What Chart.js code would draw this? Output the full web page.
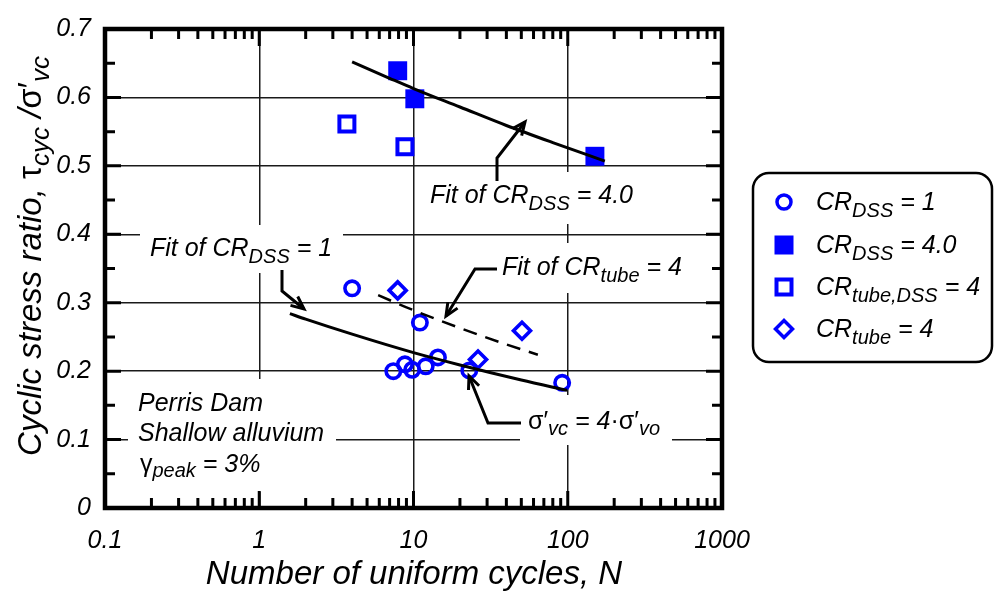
<!DOCTYPE html>
<html>
<head>
<meta charset="utf-8">
<script src="https://cdn.jsdelivr.net/npm/chart.js@4.4.1/dist/chart.umd.min.js"></script>
<style>
  html, body { margin: 0; padding: 0; background: #fff; }
  canvas { display: block; }
</style>
</head>
<body>
<canvas id="chart" width="994" height="595"></canvas>
<script>
const FONT = "'Liberation Sans', Arial, Helvetica, sans-serif";
const BLUE = '#0000ff';

// Test results: number of uniform cycles N and cyclic stress ratio
const crDss1N      = [4.0, 11.0, 7.4, 8.8, 9.8, 12.0, 14.4, 23.0, 92];
const crDss1Csr    = [0.321, 0.271, 0.200, 0.210, 0.202, 0.207, 0.220, 0.201, 0.183];
const crDss4N      = [7.9, 10.2, 150];
const crDss4Csr    = [0.639, 0.598, 0.514];
const crTubeDssN   = [3.7, 8.8];
const crTubeDssCsr = [0.561, 0.528];
const crTubeN      = [7.9, 26.2, 50.5];
const crTubeCsr    = [0.318, 0.217, 0.259];

// Fitted trend curves
const fitDss4N   = [4, 7, 10, 20, 40, 80, 174];
const fitDss4Csr = [0.652, 0.628, 0.613, 0.586, 0.559, 0.534, 0.507];
const fitDss1N   = [1.58, 2, 4, 10, 20, 50, 99];
const fitDss1Csr = [0.284, 0.276, 0.254, 0.227, 0.209, 0.187, 0.172];
const fitTubeN   = [5.9, 10, 20, 40, 64];
const fitTubeCsr = [0.311, 0.289, 0.263, 0.239, 0.224];

// Axis tick labels
const xTickValues = [0.1, 1, 10, 100, 1000];
const xTickLabels = ['0.1', '1', '10', '100', '1000'];
const yTickLabels = ['0', '0.1', '0.2', '0.3', '0.4', '0.5', '0.6', '0.7'];

const pts = (xs, ys) => xs.map((x, i) => ({ x: x, y: ys[i] }));

function isDecade(v) {
  const l = Math.log10(v);
  return Math.abs(l - Math.round(l)) < 1e-6;
}

// ---- text helpers -------------------------------------------------------
// parts: {t, sub, up} ; sub = subscript, up = upright (Greek symbols)
function richWidth(ctx, parts, size, subSize) {
  let w = 0;
  parts.forEach(p => {
    ctx.font = (p.up ? '' : 'italic ') + (p.sub ? subSize : size) + 'px ' + FONT;
    p._w = ctx.measureText(p.t).width;
    w += p._w;
  });
  return w;
}
function drawRich(ctx, x, y, parts, size, subSize, subDy, align) {
  const w = richWidth(ctx, parts, size, subSize);
  let cx = align === 'center' ? x - w / 2 : x;
  ctx.textBaseline = 'alphabetic';
  ctx.textAlign = 'left';
  ctx.fillStyle = '#000';
  parts.forEach(p => {
    ctx.font = (p.up ? '' : 'italic ') + (p.sub ? subSize : size) + 'px ' + FONT;
    ctx.fillText(p.t, cx, y + (p.sub ? subDy : 0));
    cx += p._w;
  });
}
function arrow(ctx, path) {
  ctx.save();
  ctx.strokeStyle = '#000';
  ctx.lineWidth = 3;
  ctx.lineJoin = 'miter';
  ctx.beginPath();
  ctx.moveTo(path[0][0], path[0][1]);
  for (let i = 1; i < path.length; i++) ctx.lineTo(path[i][0], path[i][1]);
  ctx.stroke();
  const [x1, y1] = path[path.length - 2];
  const [x2, y2] = path[path.length - 1];
  const ang = Math.atan2(y2 - y1, x2 - x1);
  const L = 14, a = 0.42;
  ctx.beginPath();
  ctx.moveTo(x2 - L * Math.cos(ang - a), y2 - L * Math.sin(ang - a));
  ctx.lineTo(x2, y2);
  ctx.lineTo(x2 - L * Math.cos(ang + a), y2 - L * Math.sin(ang + a));
  ctx.stroke();
  ctx.restore();
}
function marker(ctx, kind, x, y) {
  ctx.save();
  ctx.strokeStyle = BLUE;
  ctx.fillStyle = BLUE;
  if (kind === 'circle') {
    ctx.lineWidth = 3.5;
    ctx.beginPath(); ctx.arc(x, y, 7, 0, Math.PI * 2); ctx.stroke();
  } else if (kind === 'filled') {
    ctx.fillRect(x - 9.5, y - 9.5, 19, 19);
  } else if (kind === 'open') {
    ctx.lineWidth = 4;
    ctx.strokeRect(x - 7.5, y - 7.5, 15, 15);
  } else {
    ctx.lineWidth = 3.5;
    ctx.beginPath();
    ctx.moveTo(x - 8.5, y); ctx.lineTo(x, y - 8.5); ctx.lineTo(x + 8.5, y); ctx.lineTo(x, y + 8.5);
    ctx.closePath(); ctx.stroke();
  }
  ctx.restore();
}

// White label backgrounds that interrupt the grid
const labelBoxes = [
  [140, 225, 203, 48],
  [425, 172, 223, 52],
  [497, 243, 193, 50],
  [520, 395, 152, 50],
  [128, 379, 208, 113]
];

const decorations = {
  id: 'decorations',
  beforeDatasetsDraw(chart) {
    const ctx = chart.ctx;
    ctx.save();
    ctx.fillStyle = '#fff';
    labelBoxes.forEach(b => ctx.fillRect(b[0], b[1], b[2], b[3]));
    ctx.restore();
  },
  afterDatasetsDraw(chart) {
    const ctx = chart.ctx;
    const a = chart.chartArea;
    const xs = chart.scales.x, ys = chart.scales.y;
    ctx.save();
    ctx.strokeStyle = '#000';
    // inward tick marks on all four sides
    ctx.lineWidth = 3;
    ctx.beginPath();
    for (let k = 1; k < 14; k++) {
      const v = k * 0.05;
      const yy = ys.getPixelForValue(v);
      const len = k % 2 === 0 ? 16 : 10;
      ctx.moveTo(a.left, yy); ctx.lineTo(a.left + len, yy);
      ctx.moveTo(a.right, yy); ctx.lineTo(a.right - len, yy);
    }
    for (let e = -1; e < 3; e++) {
      for (let s = 1; s <= 9; s++) {
        const v = s * Math.pow(10, e);
        if (v <= 0.1 + 1e-9) continue;
        const xx = xs.getPixelForValue(v);
        const len = s === 1 ? 17 : 10;
        ctx.moveTo(xx, a.top); ctx.lineTo(xx, a.top + len);
        ctx.moveTo(xx, a.bottom); ctx.lineTo(xx, a.bottom - len);
      }
    }
    ctx.stroke();
    // plot frame
    ctx.lineWidth = 4.5;
    ctx.strokeRect(a.left, a.top, a.right - a.left, a.bottom - a.top);
    ctx.restore();
  },
  afterDraw(chart) {
    const ctx = chart.ctx;
    ctx.save();

    // annotations
    drawRich(ctx, 430, 203, [{ t: 'Fit of CR' }, { t: 'DSS', sub: true }, { t: ' = 4.0' }], 25, 20, 7, 'left');
    arrow(ctx, [[497, 181], [497, 158], [525, 122]]);

    drawRich(ctx, 150, 256, [{ t: 'Fit of CR' }, { t: 'DSS', sub: true }, { t: ' = 1' }], 25, 20, 7, 'left');
    arrow(ctx, [[282, 270], [282, 291], [304, 309]]);

    drawRich(ctx, 502, 275, [{ t: 'Fit of CR' }, { t: 'tube', sub: true }, { t: ' = 4' }], 25, 20, 7, 'left');
    arrow(ctx, [[497, 269], [475, 269], [446, 316]]);

    drawRich(ctx, 528, 429, [{ t: 'σ′', up: true }, { t: 'vc', sub: true }, { t: ' = 4' }, { t: '·σ′', up: true }, { t: 'vo', sub: true }], 25, 20, 6, 'left');
    arrow(ctx, [[521, 423], [488, 423], [469, 376]]);

    drawRich(ctx, 138, 411, [{ t: 'Perris Dam' }], 25, 19, 6, 'left');
    drawRich(ctx, 138, 441, [{ t: 'Shallow alluvium' }], 25, 19, 6, 'left');
    drawRich(ctx, 140, 472, [{ t: 'γ', up: true }, { t: 'peak', sub: true }, { t: ' = 3%' }], 25, 20, 5, 'left');

    // axis titles
    drawRich(ctx, 414, 584, [{ t: 'Number of uniform cycles, N' }], 33, 25, 8, 'center');
    ctx.save();
    ctx.translate(0, 256);
    ctx.rotate(-Math.PI / 2);
    drawRich(ctx, 0, 41, [{ t: 'Cyclic stress ratio, ' }, { t: 'τ', up: true }, { t: 'cyc', sub: true },
      { t: ' /' }, { t: 'σ′', up: true }, { t: 'vc', sub: true }], 33, 26, 8, 'center');
    ctx.restore();

    // legend
    ctx.strokeStyle = '#000';
    ctx.lineWidth = 2.5;
    ctx.beginPath();
    ctx.roundRect(753, 173, 239, 189, 16);
    ctx.stroke();
    const rows = [
      { m: 'circle', y: 210, parts: [{ t: 'CR' }, { t: 'DSS', sub: true }, { t: ' = 1' }] },
      { m: 'filled', y: 253, parts: [{ t: 'CR' }, { t: 'DSS', sub: true }, { t: ' = 4.0' }] },
      { m: 'open', y: 295, parts: [{ t: 'CR' }, { t: 'tube,DSS', sub: true }, { t: ' = 4' }] },
      { m: 'diamond', y: 337, parts: [{ t: 'CR' }, { t: 'tube', sub: true }, { t: ' = 4' }] }
    ];
    rows.forEach(r => {
      marker(ctx, r.m, 784, r.y - 8);
      drawRich(ctx, 816, r.y, r.parts, 25, 20, 7, 'left');
    });
    ctx.restore();
  }
};

const tickFont = { family: FONT, size: 25, style: 'italic' };

new Chart(document.getElementById('chart'), {
  type: 'scatter',
  data: {
    datasets: [
      { label: 'Fit of CR_DSS = 4.0', data: pts(fitDss4N, fitDss4Csr), showLine: true,
        borderColor: '#000', borderWidth: 3, pointRadius: 0, cubicInterpolationMode: 'monotone', order: 0 },
      { label: 'Fit of CR_DSS = 1', data: pts(fitDss1N, fitDss1Csr), showLine: true,
        borderColor: '#000', borderWidth: 3, pointRadius: 0, cubicInterpolationMode: 'monotone', order: 0 },
      { label: 'Fit of CR_tube = 4', data: pts(fitTubeN, fitTubeCsr), showLine: true,
        borderColor: '#000', borderWidth: 2.5, borderDash: [14, 9], pointRadius: 0,
        cubicInterpolationMode: 'monotone', order: 0 },
      { label: 'CR_DSS = 1', data: pts(crDss1N, crDss1Csr), pointStyle: 'circle', pointRadius: 7.2,
        pointBorderWidth: 3.6, pointBorderColor: BLUE, pointBackgroundColor: 'rgba(0,0,0,0)', order: 1 },
      { label: 'CR_DSS = 4.0', data: pts(crDss4N, crDss4Csr), pointStyle: 'rect', pointRadius: 13.4,
        pointBorderWidth: 0, pointBorderColor: BLUE, pointBackgroundColor: BLUE, order: 1 },
      { label: 'CR_tube,DSS = 4', data: pts(crTubeDssN, crTubeDssCsr), pointStyle: 'rect', pointRadius: 10.6,
        pointBorderWidth: 4, pointBorderColor: BLUE, pointBackgroundColor: 'rgba(0,0,0,0)', order: 1 },
      { label: 'CR_tube = 4', data: pts(crTubeN, crTubeCsr), pointStyle: 'rectRot', pointRadius: 8.5,
        pointBorderWidth: 3.6, pointBorderColor: BLUE, pointBackgroundColor: 'rgba(0,0,0,0)', order: 1 }
    ]
  },
  options: {
    responsive: false,
    animation: false,
    devicePixelRatio: 1,
    layout: { padding: { top: 15, right: 272, left: 0, bottom: 0 } },
    plugins: { legend: { display: false }, tooltip: { enabled: false } },
    scales: {
      x: {
        type: 'logarithmic',
        min: 0.1,
        max: 1000,
        afterFit(scale) { scale.height = 87; },
        border: { display: false },
        grid: {
          drawTicks: false,
          lineWidth: 1.5,
          color: ctx => (ctx.tick && isDecade(ctx.tick.value) && ctx.tick.value > 0.1 && ctx.tick.value < 1000)
            ? '#1a1a1a' : 'rgba(0,0,0,0)'
        },
        ticks: {
          autoSkip: false,
          maxRotation: 0,
          padding: 18,
          color: '#000',
          font: tickFont,
          callback(value) {
            const i = xTickValues.findIndex(t => Math.abs(t - value) / t < 1e-6);
            return i >= 0 ? xTickLabels[i] : '';
          }
        }
      },
      y: {
        min: 0,
        max: 0.7,
        afterFit(scale) { scale.width = 105; },
        border: { display: false },
        grid: {
          drawTicks: false,
          lineWidth: 1.5,
          color: ctx => (ctx.tick && ctx.tick.value > 0.05 && ctx.tick.value < 0.65) ? '#1a1a1a' : 'rgba(0,0,0,0)'
        },
        ticks: {
          stepSize: 0.1,
          padding: 14,
          color: '#000',
          font: tickFont,
          callback(value) {
            const i = Math.round(value * 10);
            return yTickLabels[i];
          }
        }
      }
    }
  },
  plugins: [decorations]
});
</script>
</body>
</html>
